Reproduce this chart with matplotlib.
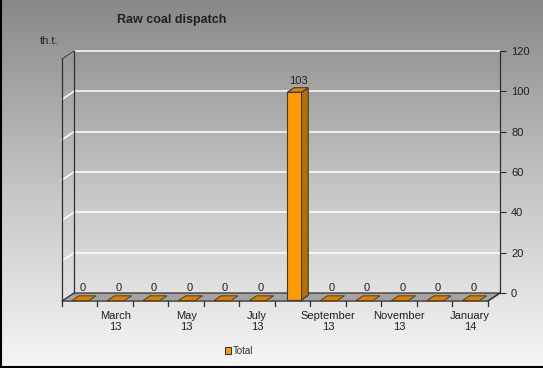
import numpy as np
import matplotlib.pyplot as plt
from matplotlib.colors import LinearSegmentedColormap
from matplotlib.patches import Polygon, Patch

plt.rcParams['font.family'] = ['Liberation Sans', 'DejaVu Sans']

# Data
months = ["February\n13", "March\n13", "April\n13", "May\n13", "June\n13", "July\n13",
          "August\n13", "September\n13", "October\n13", "November\n13", "December\n13", "January\n14"]
values = [0, 0, 0, 0, 0, 0, 103, 0, 0, 0, 0, 0]
shown_labels = [1, 3, 5, 7, 9, 11]  # every second month is labelled
yticks = [0, 20, 40, 60, 80, 100, 120]

W, H = 543, 368
fig = plt.figure(figsize=(W / 100, H / 100), dpi=100)

# background gradient (dark grey at the top, near white at the bottom)
bg = fig.add_axes([0, 0, 1, 1], zorder=-10)
grad = np.linspace(0, 1, 256).reshape(-1, 1)
cmap = LinearSegmentedColormap.from_list("bg", ["#888888", "#c4c4c4", "#f6f6f6"])
bg.imshow(grad, aspect="auto", cmap=cmap, extent=[0, 1, 0, 1], origin="upper")
bg.axis("off")
bg.plot([0.001, 0.001], [0, 1], color="black", lw=1.5, transform=bg.transAxes)
bg.plot([0, 1], [0.002, 0.002], color="black", lw=1.5, transform=bg.transAxes)

# main axes = back wall of the pseudo 3D chart
x0, x1 = 74, 500
y0, y1 = 293, 51
ax = fig.add_axes([x0 / W, 1 - y0 / H, (x1 - x0) / W, (y0 - y1) / H])
ax.set_facecolor("none")
ax.set_xlim(-0.5, 11.5)
ax.set_ylim(0, 120)

# depth of the chart in data units (12 px left, 8 px down)
DX, DY = -0.34, -4.0
n = len(values)
L, R = -0.5, n - 0.5

# floor
ax.add_patch(Polygon([(L, 0), (R, 0), (R + DX, DY), (L + DX, DY)], closed=True,
                     facecolor="#a3a3a3", edgecolor="#303030", lw=0.9, clip_on=False, zorder=1))
# left wall outline
ax.plot([L, L], [0, 120], color="#303030", lw=0.9, clip_on=False, zorder=2)
ax.plot([L + DX, L + DX], [DY, 120 + DY], color="#303030", lw=0.9, clip_on=False, zorder=2)
ax.plot([L, L + DX], [120, 120 + DY], color="#303030", lw=0.9, clip_on=False, zorder=2)

# gridlines on back wall and left wall
for t in yticks[1:]:
    ax.plot([L, R], [t, t], color="white", lw=1.1, clip_on=False, zorder=1)
    ax.plot([L, L + DX], [t, t + DY], color="white", lw=1.1, clip_on=False, zorder=1)

# ticks under the front floor edge
for k in range(n + 1):
    ax.plot([k - 0.5 + DX, k - 0.5 + DX], [DY, DY - 2.5], color="#303030", lw=0.9,
            clip_on=False, zorder=2)

# bars
front_c, side_c, top_c, edge_c = "#ff9900", "#b86e00", "#e08700", "#3a3a3a"
fb, ff = 0.3, 0.85
for i, v in enumerate(values):
    if v == 0:
        w = 0.48
        a, b = 0.35, 0.95
        ax.add_patch(Polygon([(i - w / 2 + b * DX, b * DY), (i + w / 2 + b * DX, b * DY),
                              (i + w / 2 + a * DX, a * DY), (i - w / 2 + a * DX, a * DY)],
                             closed=True, facecolor="#d98200", edgecolor="#5a3a10", lw=0.7,
                             clip_on=False, zorder=3))
        ax.annotate("0", (i + 0.72 * DX, 0.72 * DY), xytext=(0, 4), textcoords="offset points",
                    ha="center", va="bottom", fontsize=8, color="#202020", zorder=5,
                    annotation_clip=False)
    else:
        w = 0.4
        xl, xr = i - w / 2, i + w / 2
        ax.add_patch(Polygon([(xl + ff * DX, ff * DY), (xr + ff * DX, ff * DY),
                              (xr + ff * DX, v + ff * DY), (xl + ff * DX, v + ff * DY)],
                             closed=True, facecolor=front_c, edgecolor=edge_c, lw=0.8,
                             clip_on=False, zorder=4))
        ax.add_patch(Polygon([(xr + ff * DX, ff * DY), (xr + ff * DX, v + ff * DY),
                              (xr + fb * DX, v + fb * DY), (xr + fb * DX, fb * DY)],
                             closed=True, facecolor=side_c, edgecolor=edge_c, lw=0.8,
                             clip_on=False, zorder=4))
        ax.add_patch(Polygon([(xl + ff * DX, v + ff * DY), (xr + ff * DX, v + ff * DY),
                              (xr + fb * DX, v + fb * DY), (xl + fb * DX, v + fb * DY)],
                             closed=True, facecolor=top_c, edgecolor=edge_c, lw=0.8,
                             clip_on=False, zorder=4))
        ax.annotate(str(v), (i + 0.55 * DX, v + 0.55 * DY), xytext=(0, 3),
                    textcoords="offset points", ha="center", va="bottom",
                    fontsize=8, color="#202020", zorder=5, annotation_clip=False)

# category labels
for i in shown_labels:
    ax.annotate(months[i], (i + DX, DY), xytext=(0, -7), textcoords="offset points",
                ha="center", va="top", fontsize=8, color="#202020", linespacing=1.15,
                annotation_clip=False)

# value axis on the right
for s in ["top", "left", "bottom"]:
    ax.spines[s].set_visible(False)
ax.spines["right"].set_color("#303030")
ax.spines["right"].set_linewidth(0.9)
ax.yaxis.tick_right()
ax.set_yticks(yticks)
ax.tick_params(axis="y", direction="out", length=4, pad=4, labelsize=8,
               colors="#303030", labelcolor="#202020")
ax.set_xticks([])
# floor right edge
ax.plot([R, R + DX], [0, DY], color="#303030", lw=0.9, clip_on=False, zorder=2)

# titles
fig.text(172 / W, 1 - 20 / H, "Raw coal dispatch", ha="center", va="center",
         fontsize=9, fontweight="bold", color="#202020")
fig.text(40 / W, 1 - 41 / H, "th.t.", ha="left", va="center", fontsize=8, color="#202020")

# legend
fig.legend(handles=[Patch(facecolor=front_c, edgecolor="#303030", lw=0.7, label="Total")],
           loc="center", bbox_to_anchor=(239 / W, 1 - 351 / H), frameon=False,
           fontsize=7, handlelength=0.6, handleheight=0.6, handletextpad=0.15,
           borderpad=0, labelcolor="#303030")

fig.savefig("out.png", dpi=100)
